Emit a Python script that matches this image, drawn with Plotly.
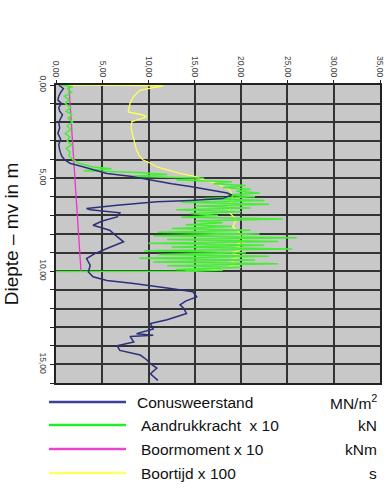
import plotly.graph_objects as go

# ---------------- data ----------------
cone_depth = [0.0, 0.2, 0.4, 0.6, 0.8, 1.0, 1.2, 1.4, 1.6, 1.8, 2.0, 2.3, 2.6, 2.9, 3.2, 3.5, 3.8, 4.0,
              4.2, 4.4, 4.6, 4.75, 4.9, 5.1, 5.3, 5.45, 5.65, 5.8, 5.9, 6.0, 6.1, 6.2, 6.27, 6.45, 6.63,
              6.7, 6.86, 7.08, 7.3, 7.53, 7.8, 8.1, 8.42, 8.78, 9.05, 9.32, 9.68, 10.04, 10.3, 10.5,
              10.66, 10.9, 11.1, 11.38, 11.6, 11.8, 12.0, 12.27, 12.6, 12.8, 13.1, 13.35, 13.44, 13.5,
              13.8, 14.0, 14.25, 14.5, 14.75, 14.96, 15.2, 15.5, 15.86]
cone_value = [0.3, 0.8, 0.5, 0.3, 0.2, 0.6, 0.3, 0.4, 0.7, 0.5, 0.3, 0.4, 0.2, 0.5, 0.3, 0.4, 0.6, 0.9,
              1.5, 3.0, 4.5, 5.5, 8.0, 10.2, 12.5, 14.5, 17.0, 18.5, 19.0, 18.5, 18.0, 14.5, 10.9, 6.6, 3.3,
              3.7, 6.9, 6.6, 5.0, 4.0, 5.8, 6.5, 7.3, 5.5, 4.2, 3.3, 3.7, 3.5, 4.0, 5.5,
              8.4, 12.0, 14.8, 15.2, 14.0, 13.4, 13.8, 14.1, 12.0, 10.2, 10.5, 8.7, 10.5, 8.0,
              8.4, 6.6, 6.9, 9.1, 9.8, 10.2, 10.9, 10.2, 11.0]

thrust_depth = [0.0, 0.1, 0.2, 0.4, 0.6, 0.8, 1.0, 1.2, 1.4, 1.6, 1.8, 2.0, 2.2, 2.4, 2.6, 2.8, 3.0, 3.2,
                3.4, 3.6, 3.8, 4.0, 4.2, 4.4, 4.5, 4.6, 4.7, 4.8, 4.9, 5.0, 5.1, 5.2, 5.3, 5.4, 5.5, 5.6,
                5.7, 5.8, 5.9, 6.0, 6.1, 6.2, 6.3, 6.4, 6.5, 6.6, 6.7, 6.8, 6.9, 7.0, 7.1, 7.2, 7.3, 7.4,
                7.5, 7.6, 7.7, 7.8, 7.9, 8.0, 8.1, 8.2, 8.3, 8.4, 8.5, 8.6, 8.7, 8.8, 8.9, 9.0, 9.1, 9.2,
                9.3, 9.4, 9.5, 9.6, 9.7, 9.8, 9.9, 9.95, 10.0, 10.02]
thrust_value = [0.5, 1.8, 1.2, 1.7, 0.9, 1.4, 1.0, 1.6, 1.1, 1.7, 1.3, 1.8, 1.2, 1.6, 1.0, 1.5, 1.2, 1.7,
                1.1, 1.5, 1.4, 1.8, 2.5, 4.0, 6.0, 3.0, 9.0, 12.0, 8.0, 16.0, 13.0, 19.0, 17.0, 20.5, 18.0, 21.0,
                19.5, 22.0, 18.5, 21.5, 16.0, 22.5, 13.5, 23.0, 15.0, 21.0, 13.0, 20.0, 14.5, 17.5, 13.5, 24.5, 15.0, 18.0,
                14.0, 19.0, 12.5, 21.0, 11.0, 22.0, 10.5, 26.0, 12.0, 24.0, 10.0, 22.5, 12.5, 25.5, 9.5, 20.5, 11.0, 23.0,
                9.0, 21.5, 10.5, 24.0, 12.0, 20.0, 13.0, 18.0, 14.0, 0.0]

torque_depth = [0.1, 10.0]
torque_value = [1.4, 2.7]

time_depth = [0.0, 0.0, 0.05, 0.1, 0.27, 0.6, 0.97, 1.45, 1.61, 1.7, 1.97, 2.3, 2.7, 3.1, 3.5, 3.8, 4.03,
              4.2, 4.4, 4.6, 4.75, 4.93, 5.1, 5.3, 5.5, 5.65, 5.9, 6.2, 6.5, 6.9, 7.2, 7.6, 7.97, 8.15,
              8.4, 8.6, 8.8, 9.0, 9.2, 9.4, 9.6, 9.8, 9.95, 10.0]
time_value = [0.2, 2.9, 11.6, 11.0, 9.1, 8.4, 8.0, 7.8, 9.4, 9.8, 8.2, 8.1, 8.3, 8.5, 8.7, 9.0, 9.4,
              10.2, 10.9, 12.3, 13.4, 15.2, 15.9, 17.4, 18.3, 18.8, 19.0, 19.1, 18.6, 18.8, 19.5, 19.1, 19.9, 19.9,
              20.5, 19.3, 20.3, 19.0, 19.8, 18.8, 19.5, 18.5, 16.0, 14.0]

x_ticks = [0, 5, 10, 15, 20, 25, 30, 35]
x_labels = ["0,00", "5,00", "10,00", "15,00", "20,00", "25,00", "30,00", "35,00"]
y_ticks = [0, 5, 10, 15]
y_labels = ["0,00", "5,00", "10,00", "15,00"]

legend_names = ["Conusweerstand", "Aandrukkracht  x 10", "Boormoment x 10", "Boortijd x 100"]
legend_units = ["MN/m<sup>2</sup>", "kN", "kNm", "s"]
legend_colors = ["#3a3fa0", "#22ee22", "#ee44cc", "#ffff66"]

# ---------------- figure ----------------
fig = go.Figure()
fig.add_trace(go.Scatter(x=time_value, y=time_depth, mode="lines",
                         line=dict(color="#ffff55", width=1.3), showlegend=False))
fig.add_trace(go.Scatter(x=torque_value, y=torque_depth, mode="lines",
                         line=dict(color="#ee33cc", width=1.3), showlegend=False))
fig.add_trace(go.Scatter(x=thrust_value, y=thrust_depth, mode="lines",
                         line=dict(color="#44ee33", width=1.5), showlegend=False))
fig.add_trace(go.Scatter(x=cone_value, y=cone_depth, mode="lines",
                         line=dict(color="#2c307a", width=1.5), showlegend=False))

W, H = 389, 489
L, R, T, B = 56, 380, 85, 383


def px_x(p):
    return (p - L) / (R - L)


def px_y(p):
    return (B - p) / (B - T)


legend_y = [402, 425, 449, 473]
text_x = [135, 139, 139, 139]
for name, unit, col, yy, tx in zip(legend_names, legend_units, legend_colors, legend_y, text_x):
    fig.add_shape(type="line", xref="paper", yref="paper",
                  x0=px_x(49), x1=px_x(126), y0=px_y(yy), y1=px_y(yy),
                  line=dict(color=col, width=2.5))
    fig.add_annotation(xref="paper", yref="paper", x=px_x(tx), y=px_y(yy), text=name,
                       showarrow=False, xanchor="left", yanchor="middle",
                       font=dict(size=15.5, color="#111111", family="Liberation Sans, Arial"))
    fig.add_annotation(xref="paper", yref="paper", x=px_x(379), y=px_y(yy), text=unit,
                       showarrow=False, xanchor="right", yanchor="middle",
                       font=dict(size=15.5, color="#111111", family="Liberation Sans, Arial"))

grid_col = "#333333"
fig.update_layout(
    width=W, height=H,
    margin=dict(l=L, r=W - R, t=T, b=H - B, autoexpand=False),
    paper_bgcolor="white", plot_bgcolor="#c8c8c8",
    font=dict(family="Liberation Sans, Arial", color="#333333"),
    showlegend=False,
    xaxis=dict(side="top", range=[0, 35], tickvals=x_ticks, ticktext=x_labels, automargin=False,
               tickangle=90, tickfont=dict(size=8.5, color="#444444"),
               showgrid=True, gridcolor=grid_col, gridwidth=1.5,
               showline=True, linecolor="#222222", linewidth=1.5, mirror=True,
               ticks="outside", ticklen=3, tickcolor="#222222", zeroline=False),
    yaxis=dict(range=[16, 0], tickvals=y_ticks, ticktext=y_labels, automargin=False,
               tickangle=90, tickfont=dict(size=8.5, color="#444444"),
               showgrid=True, gridcolor=grid_col, gridwidth=1.5,
               showline=True, linecolor="#222222", linewidth=1.5, mirror=True,
               ticks="outside", ticklen=4, tickcolor="#222222", zeroline=False,
               minor=dict(dtick=1, showgrid=True, gridcolor=grid_col, gridwidth=1.5,
                          ticks="outside", ticklen=4, tickcolor="#222222"),
               title=dict(text="Diepte – mv in m", standoff=14,
                          font=dict(size=19, color="#111111"))),
)

fig.write_html("out.html", config={"displayModeBar": False},
               post_script="document.body.style.margin='0';document.body.style.padding='0';")
